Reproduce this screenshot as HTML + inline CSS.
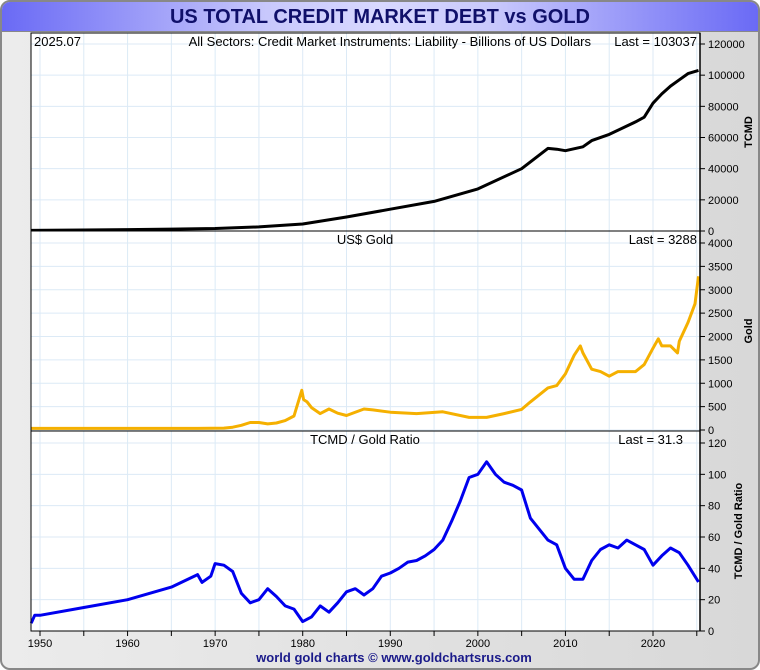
<!DOCTYPE html>
<html><head><meta charset="utf-8"><style>
html,body{margin:0;padding:0;background:#fff}
body{width:760px;height:670px;overflow:hidden;font-family:"Liberation Sans",sans-serif}
#frame{position:absolute;left:0;top:0;width:756px;height:666px;border:2px solid #888;border-radius:10px;background:linear-gradient(90deg,#ececec,#d8d8d8);overflow:hidden}
#title{position:absolute;left:0;top:0;width:756px;height:29px;background:linear-gradient(90deg,#6a6af5,#c8c8fc 35%,#d8d8ff 50%,#c8c8fc 65%,#6a6af5);border-bottom:1px solid #888;text-align:center;font:bold 20px "Liberation Sans",sans-serif;color:#10106a;line-height:30px}
svg{position:absolute;left:0;top:0}
</style></head><body>
<div id="frame">
<div id="title">US TOTAL CREDIT MARKET DEBT vs GOLD</div>
</div>
<svg id="s" width="760" height="670" xmlns="http://www.w3.org/2000/svg"></svg>
<script>
const debtYears=[1949,1955,1960,1965,1970,1975,1980,1985,1990,1995,2000,2005,2008,2009,2010,2012,2013,2015,2018,2019,2020,2021,2022,2023,2024,2025.2];
const debtValues=[400,650,900,1200,1600,2600,4500,9000,14000,19000,27000,40000,53000,52500,51500,54000,58000,62000,70000,73000,82000,88000,93000,97000,101000,103037];
const goldYears=[1949,1968,1971,1972,1973,1974,1975,1976,1977,1978,1979,1979.9,1980.1,1980.5,1981,1982,1983,1984,1985,1987,1988,1990,1993,1996,1999,2001,2003,2005,2006,2008,2009,2010,2011,2011.7,2012,2013,2014,2015,2016,2018,2019,2020,2020.6,2021,2022,2022.8,2023,2024,2024.8,2025.2];
const goldValues=[35,35,40,60,100,160,160,130,150,200,300,850,650,600,480,350,450,360,310,450,430,380,350,390,270,270,350,440,600,900,950,1200,1600,1800,1650,1300,1250,1150,1250,1250,1400,1750,1950,1800,1800,1650,1900,2300,2700,3288];
const ratioYears=[1949,1949.4,1950,1955,1960,1965,1968,1968.5,1969.5,1970,1971,1972,1973,1974,1975,1976,1977,1978,1979,1980,1981,1982,1983,1984,1985,1986,1987,1988,1989,1990,1991,1992,1993,1994,1995,1996,1997,1998,1999,2000,2001,2002,2003,2004,2005,2006,2007,2008,2009,2010,2011,2012,2013,2014,2015,2016,2017,2018,2019,2020,2021,2022,2023,2024,2025.2];
const ratioValues=[5,10,10,15,20,28,36,31,35,43,42,38,24,18,20,27,22,16,14,6,9,16,12,18,25,27,23,27,35,37,40,44,45,48,52,58,70,83,98,100,108,100,95,93,90,72,65,58,55,40,33,33,45,52,55,53,58,55,52,42,48,53,50,42,31.3];
const debtTicks=[0,20000,40000,60000,80000,100000,120000];
const goldTicks=[0,500,1000,1500,2000,2500,3000,3500,4000];
const ratioTicks=[0,20,40,60,80,100,120];
const yearTicks=[1950,1960,1970,1980,1990,2000,2010,2020];

const S=document.getElementById('s');const NS='http://www.w3.org/2000/svg';
function mk(t,a,txt){const e=document.createElementNS(NS,t);for(const k in a)e.setAttribute(k,a[k]);if(txt!==undefined)e.textContent=txt;S.appendChild(e);return e;}
const X0=31,X1=700;
function xs(y){return 40+(y-1950)*(613/70);}
const panels=[
 {top:33,bot:231,max:120000,ticks:debtTicks,yr:debtYears,v:debtValues,col:'#000',lab:'TCMD',name:'debt'},
 {top:231,bot:431,max:4000,ticks:goldTicks,yr:goldYears,v:goldValues,col:'#f5b000',lab:'Gold',name:'gold'},
 {top:431,bot:631,max:120,ticks:ratioTicks,yr:ratioYears,v:ratioValues,col:'#0000ee',lab:'TCMD / Gold Ratio',name:'ratio'}];
const zeroY=[231,430,631],topY=[44,243,443];
panels.forEach((p,i)=>{
 const ys=v=>zeroY[i]-(v/p.max)*(zeroY[i]-topY[i]);
 let r=mk('rect',{x:X0,y:p.top,width:X1-X0,height:p.bot-p.top,fill:'#fff'});
 
 for(let y=1950;y<=2025;y+=5){mk('line',{x1:xs(y),x2:xs(y),y1:p.top,y2:p.bot,stroke:'#dceaf6','stroke-width':1});}
 p.ticks.forEach(t=>{const y=ys(t);
  mk('line',{x1:X0,x2:X1,y1:y,y2:y,stroke:'#dceaf6','stroke-width':1});
  mk('line',{x1:X1,x2:X1+5,y1:y,y2:y,stroke:'#000'});
  let tx=mk('text',{x:X1+8,y:y+4,'font-size':'11',fill:'#000'},t);
  
 });
 let d='';p.yr.forEach((y,j)=>{d+=(j?'L':'M')+xs(y).toFixed(1)+','+ys(p.v[j]).toFixed(1);});
 let ln=mk('path',{d:d,fill:'none',stroke:p.col,'stroke-width':3,'stroke-linejoin':'round'});
 
 let at=mk('text',{x:0,y:0,'font-size':'11','font-weight':'bold',transform:'translate('+(i==2?742:752)+','+((p.top+p.bot)/2)+') rotate(-90)','text-anchor':'middle'},p.lab);
 
 mk('rect',{x:X0,y:p.top,width:X1-X0,height:p.bot-p.top,fill:'none',stroke:'#000','stroke-width':1});
});
function lab(x,y,t,a,n){let e=mk('text',{x:x,y:y,'font-size':'13','text-anchor':a},t);}
lab(34,46,'2025.07','start','date-label');
lab(591,46,'All Sectors: Credit Market Instruments: Liability - Billions of US Dollars','end','debt-series-label');
lab(697,46,'Last = 103037','end','debt-last-value');
lab(365,244,'US$ Gold','middle','gold-series-label');
lab(697,244,'Last = 3288','end','gold-last-value');
lab(365,444,'TCMD / Gold Ratio','middle','ratio-series-label');
lab(683,444,'Last = 31.3','end','ratio-last-value');
mk('line',{x1:X1,x2:X1,y1:33,y2:631,stroke:'#000','stroke-width':1.5});
for(let y=1950;y<=2025;y+=5){mk('line',{x1:xs(y),x2:xs(y),y1:631,y2:636,stroke:'#000'});}
yearTicks.forEach(y=>{let e=mk('text',{x:xs(y),y:647,'font-size':'11','text-anchor':'middle'},y);});
let f=mk('text',{x:394,y:662,'font-size':'13','font-weight':'bold',fill:'#1a1a8a','text-anchor':'middle'},'world gold charts © www.goldchartsrus.com');

</script>
</body></html>
